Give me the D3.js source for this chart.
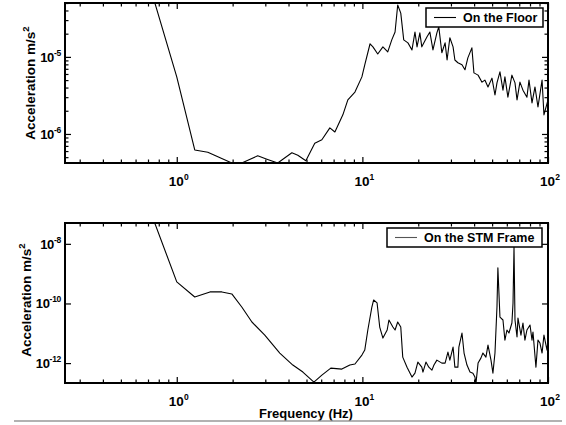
<html>
  <head>
    <style>
      body {
        margin: 0;
        background: #fff;
        font-family: "Liberation Sans", Arial, sans-serif;
      }
      svg {
        display: block;
      }
      .tick text {
        display: none;
      }
    </style>
    <script src="https://cdn.jsdelivr.net/npm/d3@7"></script>
  </head>
  <body>
    <div id="chart"></div>
    <script>
      // values (Hz, m/s^2)
      const floorFreq = [0.7, 1.0, 1.25, 1.47, 1.98, 2.24, 2.73, 3.06, 3.5, 4.17, 4.49, 4.96,
        5.54, 6.05, 6.68, 7.11, 7.85, 8.35, 9.12, 9.94, 10.3, 11.0, 11.4, 12.1, 12.9, 13.7,
        14.4, 15.0, 15.5, 16.1, 16.7, 17.6, 18.5, 19.2, 19.7, 20.4, 20.9, 22.3, 23.1, 24.0,
        25.2, 25.8, 26.8, 27.9, 28.6, 29.6, 30.8, 31.5, 32.7, 34.4, 35.7, 37.0, 38.9, 39.9,
        42.0, 44.1, 45.7, 47.5, 49.9, 51.8, 53.1, 55.1, 57.2, 58.6, 60.8, 63.9, 66.4, 68.1,
        70.6, 73.3, 77.0, 79.0, 82.0, 85.1, 88.3, 92.9, 95.1, 100];
      const floorAcc = [1e-4, 5.5e-6, 6.2e-7, 5.8e-7, 4.2e-7, 4.2e-7, 5.2e-7, 4.7e-7, 4.2e-7,
        5.7e-7, 5.3e-7, 4.5e-7, 7.6e-7, 8.4e-7, 1.2e-6, 1.06e-6, 1.77e-6, 2.77e-6, 3.5e-6,
        5.5e-6, 7.9e-6, 1.48e-5, 1.35e-5, 1.09e-5, 1.35e-5, 1.16e-5, 1.66e-5, 2.1e-5, 4.7e-5,
        3.7e-5, 1.66e-5, 1.52e-5, 1.23e-5, 2.1e-5, 1.35e-5, 2.05e-5, 1.35e-5, 1.82e-5, 2.1e-5,
        1.23e-5, 2.05e-5, 2.45e-5, 1.13e-5, 1.52e-5, 9.1e-6, 1.77e-5, 1.35e-5, 9.1e-6, 8.4e-6,
        7.9e-6, 6.8e-6, 9.7e-6, 1.31e-5, 6.2e-6, 5.8e-6, 4.7e-6, 5.0e-6, 4.07e-6, 5.3e-6,
        3.2e-6, 4.6e-6, 6.4e-6, 3.7e-6, 5.5e-6, 3.0e-6, 5.8e-6, 4.6e-6, 2.77e-6, 4.7e-6,
        3.7e-6, 3.0e-6, 5.0e-6, 2.53e-6, 4.07e-6, 2.24e-6, 5.0e-6, 1.77e-6, 2.77e-6];

      const frameFreq = [0.7, 1.0, 1.25, 1.51, 1.75, 1.98, 2.24, 2.54, 2.98, 3.59, 4.22, 4.78,
        5.48, 6.05, 6.76, 7.75, 8.56, 9.12, 9.94, 10.3, 10.7, 11.25, 11.5, 12.0, 12.4, 12.9,
        13.6, 13.9, 14.6, 15.0, 15.5, 16.1, 16.5, 17.4, 18.5, 19.2, 19.9, 20.9, 21.2, 22.0,
        22.8, 23.7, 24.3, 25.2, 26.8, 27.9, 28.9, 29.6, 30.8, 31.5, 32.7, 33.1, 34.4, 35.3,
        36.6, 38.0, 39.4, 40.4, 40.9, 42.0, 43.5, 44.6, 46.3, 47.5, 49.3, 50.5, 51.8, 53.1,
        53.7, 55.1, 57.2, 58.6, 60.1, 61.6, 63.9, 64.8, 65.6, 66.4, 68.1, 68.9, 71.5, 73.3,
        75.1, 77.0, 80.0, 82.0, 83.0, 86.1, 88.3, 90.5, 92.9, 95.1, 98.8, 100];
      const frameAcc = [2e-7, 5.3e-10, 1.65e-10, 2.44e-10, 2.44e-10, 2.09e-10, 7.6e-11,
        2.39e-11, 8.7e-12, 2.17e-12, 8.6e-13, 5.0e-13, 2.3e-13, 3.95e-13, 6.8e-13, 6.3e-13,
        8.6e-13, 9.3e-13, 1.86e-12, 2.73e-12, 1.29e-11, 7.6e-11, 1.31e-10, 1.04e-10, 1.62e-11,
        6.9e-12, 1.29e-11, 2.79e-11, 1.62e-11, 1.29e-11, 2.39e-11, 1.62e-11, 1.59e-12, 7.3e-13,
        3.4e-13, 4.6e-13, 1.08e-12, 7.3e-13, 5.0e-13, 1.08e-12, 7.3e-13, 5.8e-13, 8.6e-13,
        1.26e-12, 1.0e-12, 1.0e-12, 2.34e-12, 1.26e-12, 3.45e-12, 7.3e-13, 7.3e-13, 3.45e-12,
        1.02e-11, 2.17e-12, 8.6e-13, 5.0e-13, 4.6e-13, 3.4e-13, 2.0e-13, 1.0e-12, 1.47e-12,
        2.17e-12, 1.59e-12, 4.0e-12, 1.26e-12, 4.6e-13, 2.17e-12, 7.6e-11, 1.56e-9, 3.5e-11,
        2.79e-11, 5.9e-12, 1.29e-11, 1.02e-11, 2.21e-11, 1.04e-10, 7.9e-9, 2.79e-11, 7.5e-12,
        3.26e-11, 8.7e-12, 2.21e-11, 5.9e-12, 1.29e-11, 1.89e-11, 5.9e-12, 1.1e-11, 7.3e-13,
        5.9e-12, 4.7e-12, 2.17e-12, 8.7e-12, 2.73e-12, 5.9e-12];

      const xMajor = [1, 10, 100];
      const floorMajor = [1e-6, 1e-5];
      const frameMajor = [1e-12, 1e-10, 1e-8];

      const width = 566, height = 425;
      const svg = d3.select("#chart").append("svg")
        .attr("width", width).attr("height", height);

      const x = d3.scaleLog().domain([0.25, 100]).range([65, 548]);

      function sup(sel, exp) {
        sel.append("tspan").text("10");
        sel.append("tspan").attr("dy", -6).attr("font-size", 8.5).text(exp);
      }

      function panel(opt) {
        const y = d3.scaleLog().domain(opt.domain).range([opt.bottom, opt.top]);
        const g = svg.append("g");
        const id = "clip" + opt.top;

        g.append("clipPath").attr("id", id).append("rect")
          .attr("x", 65).attr("y", opt.top).attr("width", 483).attr("height", opt.bottom - opt.top);

        g.append("path")
          .datum(opt.freq.map((f, i) => [f, opt.acc[i]]))
          .attr("clip-path", `url(#${id})`)
          .attr("fill", "none").attr("stroke", "#000").attr("stroke-width", 1.1)
          .attr("stroke-linejoin", "round")
          .attr("d", d3.line().x(d => x(d[0])).y(d => y(d[1])));

        // ticks, pointing inward on all four sides
        const xMinor = x.ticks().filter(t => !xMajor.includes(t));
        const tick = (axis, vals, size, tr) =>
          g.append("g").attr("transform", tr)
            .call(axis.tickValues(vals).tickSize(size).tickFormat(""))
            .call(a => a.select(".domain").remove())
            .selectAll("line").attr("stroke-width", 1.2);
        tick(d3.axisBottom(x), xMajor, -6, `translate(0,${opt.bottom})`);
        tick(d3.axisBottom(x), xMinor, -3.5, `translate(0,${opt.bottom})`);
        tick(d3.axisTop(x), xMajor, -6, `translate(0,${opt.top})`);
        tick(d3.axisTop(x), xMinor, -3.5, `translate(0,${opt.top})`);
        tick(d3.axisLeft(y), opt.major, -6, "translate(65,0)");
        tick(d3.axisRight(y), opt.major, -6, "translate(548,0)");
        if (opt.minor) {
          const yMinor = y.ticks().filter(t => !opt.major.some(m => Math.abs(m - t) / m < 1e-6));
          tick(d3.axisLeft(y), yMinor, -3.5, "translate(65,0)");
          tick(d3.axisRight(y), yMinor, -3.5, "translate(548,0)");
        }

        g.append("rect")
          .attr("x", 65).attr("y", opt.top).attr("width", 483).attr("height", opt.bottom - opt.top)
          .attr("fill", "none").attr("stroke", "#000").attr("stroke-width", 2);

        // tick labels
        g.selectAll(".xl").data(xMajor).join("text")
          .attr("x", d => x(d) + 2).attr("y", opt.bottom + 23)
          .attr("text-anchor", "middle").attr("font-size", 13.5).attr("font-weight", "bold")
          .each(function (d) { sup(d3.select(this), Math.round(Math.log10(d))); });
        g.selectAll(".yl").data(opt.major).join("text")
          .attr("x", 61).attr("y", d => y(d) + 5)
          .attr("text-anchor", "end").attr("font-size", 13).attr("font-weight", "bold")
          .attr("letter-spacing", -0.3)
          .each(function (d) {
            const s = d3.select(this);
            s.append("tspan").text("10");
            s.append("tspan").attr("dy", -6).attr("font-size", 8.5)
              .text("-" + Math.round(-Math.log10(d)));
          });

        // y title
        const t = g.append("text")
          .attr("transform", `translate(${opt.titleX},${opt.titleY}) rotate(-90)`)
          .attr("text-anchor", "middle").attr("font-size", 13.5).attr("font-weight", "bold");
        t.append("tspan").text("Acceleration m/s");
        t.append("tspan").attr("dy", -6).attr("font-size", 9.5).text("2");

        // legend
        const L = opt.legend;
        g.append("rect").attr("x", L.x).attr("y", L.y).attr("width", L.w).attr("height", 19)
          .attr("fill", "#fff").attr("stroke", "#000").attr("stroke-width", 1.5);
        g.append("line").attr("x1", L.x + 8).attr("x2", L.x + 30)
          .attr("y1", L.y + 9.5).attr("y2", L.y + 9.5).attr("stroke", L.color).attr("stroke-width", 1.1);
        g.append("text").attr("x", L.x + 37).attr("y", L.y + 14)
          .attr("font-size", 12.5).attr("font-weight", "bold").text(L.label);
      }

      panel({
        top: 3, bottom: 163, domain: [4.2e-7, 5e-5],
        freq: floorFreq, acc: floorAcc, major: floorMajor, minor: true,
        titleX: 35, titleY: 83,
        legend: { x: 426, y: 8, w: 117, label: "On the Floor", color: "#000" }
      });
      panel({
        top: 223, bottom: 383, domain: [2.15e-13, 5e-8],
        freq: frameFreq, acc: frameAcc, major: frameMajor, minor: false,
        titleX: 31, titleY: 300,
        legend: { x: 387, y: 228, w: 155, label: "On the STM Frame", color: "#555" }
      });

      svg.append("text").attr("x", 306).attr("y", 418)
        .attr("text-anchor", "middle").attr("font-size", 13).attr("font-weight", "bold")
        .text("Frequency (Hz)");

      svg.append("line").attr("x1", 14).attr("x2", 562).attr("y1", 421).attr("y2", 421)
        .attr("stroke", "#999").attr("stroke-width", 1.5);
    </script>
  </body>
</html>
